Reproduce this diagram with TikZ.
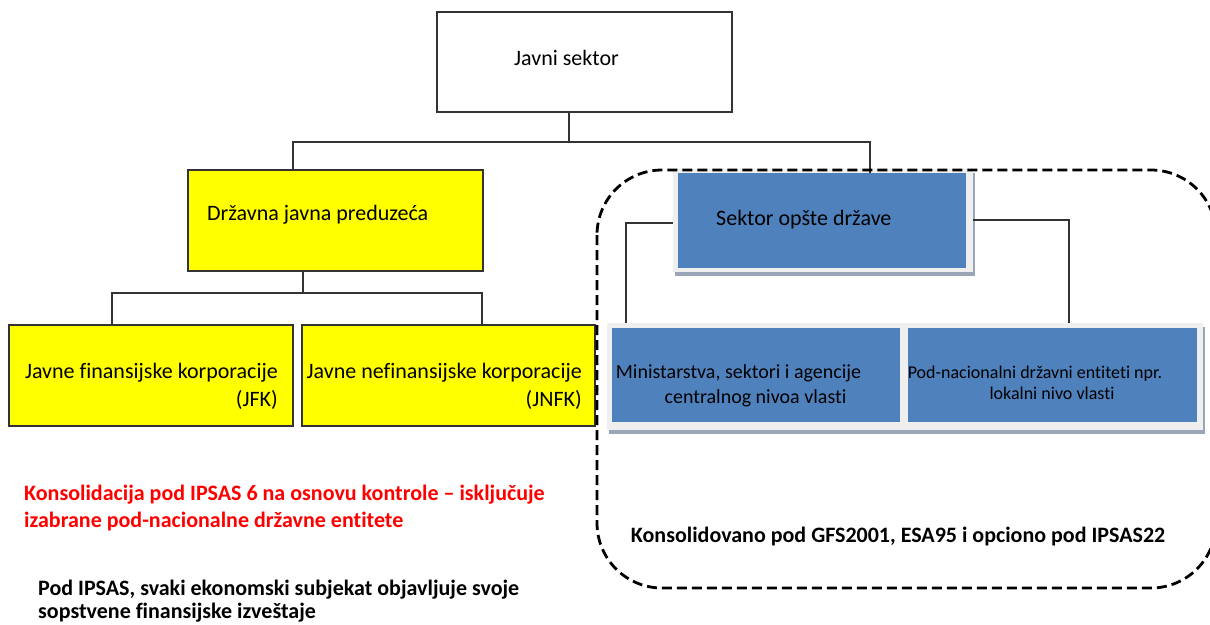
\documentclass[tikz,border=0pt]{standalone}
\usepackage{fontspec}
\setmainfont{Carlito}[Ligatures=NoCommon]
\definecolor{offblue}{HTML}{4F81BD}
\definecolor{panelgray}{HTML}{EFEFEF}
\definecolor{shadowc}{HTML}{9AA5B8}
\definecolor{linec}{HTML}{333333}
\definecolor{boxyellow}{HTML}{FFFF00}
\begin{document}
\begin{tikzpicture}[x=1pt,y=-1pt,
  conn/.style={draw=linec, line width=1.1pt},
  plainbox/.style={draw=linec, line width=1.2pt, fill=white, inner sep=0pt},
  yellowbox/.style={plainbox, fill=boxyellow},
  bluebox/.style={fill=offblue, inner sep=0pt},
  panelbox/.style={fill=panelgray, inner sep=0pt},
  shadowbox/.style={fill=shadowc, inner sep=0pt},
  boxtext/.style={inner sep=0pt, font=\fontsize{22}{28}\selectfont},
  notetext/.style={inner sep=0pt, align=left, font=\bfseries\fontsize{22}{27}\selectfont},
  groupline/.style={draw=black, line width=2.8pt, dash pattern=on 10pt off 5pt, rounded corners=65pt}
]
\useasboundingbox (0,0) rectangle (1210,624);
\clip (0,0) rectangle (1210,624);

% top box
\node[plainbox, minimum width=295pt, minimum height=100pt] (js) at (584.5,62) {};
\node[boxtext, anchor=west] (tjs) at (514,58) {Javni sektor};

% yellow boxes
\node[yellowbox, minimum width=295pt, minimum height=101pt] (dj) at (335.5,220.5) {};
\node[boxtext, anchor=west] (tdj) at (207,215) {Državna javna preduzeća};

\node[yellowbox, minimum width=284pt, minimum height=101pt] (jfk) at (151,375.5) {};
\node[boxtext, anchor=east, align=right] (tjfk) at (278,386) {Javne finansijske korporacije\\(JFK)};

\node[yellowbox, minimum width=293pt, minimum height=101pt] (jnfk) at (448.5,375.5) {};
\node[boxtext, anchor=east, align=right] (tjnfk) at (582,386) {Javne nefinansijske korporacije\\(JNFK)};

% blue: Sektor opste drzave
\node[shadowbox, minimum width=300pt, minimum height=103pt] (sosh) at (825,224.5) {};
\node[panelbox, minimum width=300pt, minimum height=103pt] (sop) at (823,220.5) {};
\node[bluebox, minimum width=288pt, minimum height=95pt] (so) at (822,220.5) {};
\node[boxtext, anchor=west] (tso) at (716,220) {Sektor opšte države};

% blue bottom pair
\node[shadowbox, minimum width=596pt, minimum height=107pt] (bsh) at (907,380) {};
\node[panelbox, minimum width=596pt, minimum height=107pt] (bp) at (905,376.5) {};
\node[bluebox, minimum width=288pt, minimum height=94pt] (mi) at (756,375) {};
\node[bluebox, minimum width=289pt, minimum height=94pt] (pn) at (1052.5,375) {};
\node[inner sep=0pt, align=center, font=\fontsize{20}{25}\selectfont] (tmi) at (755.5,385.5)
  {Ministarstva, sektori i agencije\hspace*{34pt}\\centralnog nivoa vlasti};
\node[inner sep=0pt, align=center, font=\fontsize{18}{21}\selectfont] (tpn) at (1052,383)
  {Pod-nacionalni državni entiteti npr.\hspace*{34pt}\\lokalni nivo vlasti};

% connectors
\coordinate (j1) at (569,142);
\coordinate (b1) at (293,142);
\coordinate (b2) at (870,142);
\draw[conn] (js.south -| j1) -- (j1);
\draw[conn] (dj.north -| b1) -- (b1) -- (b2) -- (so.north -| b2);

\coordinate (c0) at (303,293);
\coordinate (c1) at (112,293);
\coordinate (c2) at (482,293);
\draw[conn] (dj.south -| c0) -- (c0);
\draw[conn] (jfk.north -| c1) -- (c1) -- (c2) -- (jnfk.north -| c2);

\coordinate (d1) at (626,223);
\coordinate (d2) at (1069,220);
\draw[conn] (sop.west |- d1) -- (d1) -- (bp.north -| d1);
\draw[conn] (sop.east |- d2) -- (d2) -- (bp.north -| d2);

% dashed grouping
\draw[groupline] (597,170) rectangle (1216,588);

% notes
\node[notetext, text=red, anchor=north west] (nred) at (24,484.5)
  {Konsolidacija pod IPSAS 6 na osnovu kontrole – isključuje\\izabrane pod-nacionalne državne entitete};
\node[notetext, anchor=north west, font=\bfseries\fontsize{22}{23}\selectfont] (nblack) at (38,579.5)
  {Pod IPSAS, svaki ekonomski subjekat objavljuje svoje\\sopstvene finansijske izveštaje};
\node[notetext, anchor=center] (ngfs) at (898,537)
  {Konsolidovano pod GFS2001, ESA95 i opciono pod IPSAS22};
\end{tikzpicture}
\end{document}
